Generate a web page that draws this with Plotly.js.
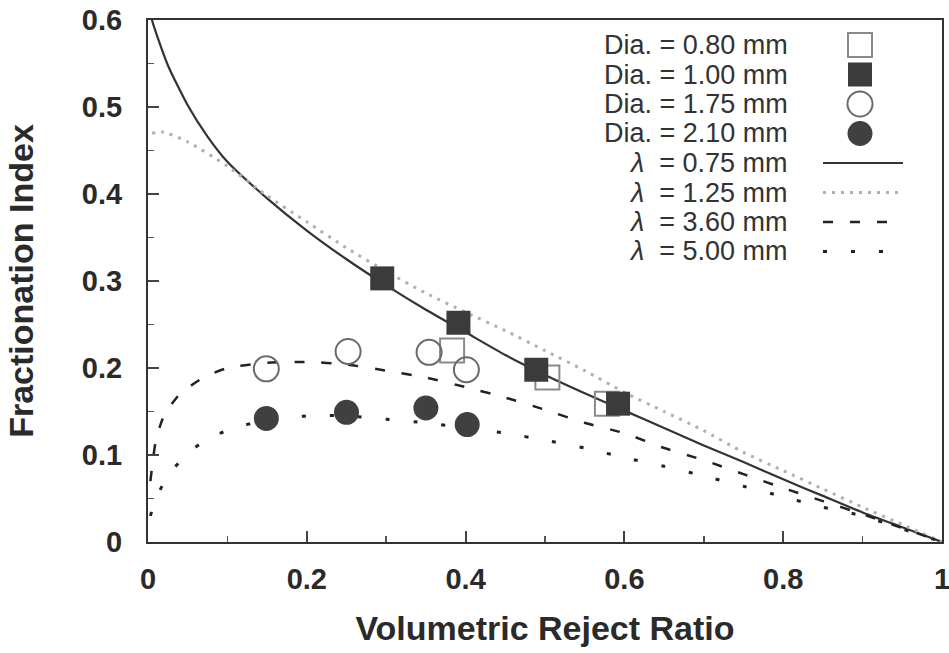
<!DOCTYPE html>
<html>
<head>
<meta charset="utf-8">
<script src="https://cdn.plot.ly/plotly-3.0.1.min.js"></script>
<style>
html,body{margin:0;padding:0;background:#fff;}
#chart{width:949px;height:653px;}
</style>
</head>
<body>
<div id="chart"></div>
<script>
// ---------- data ----------
const dia080X = [0.383, 0.503, 0.578];
const dia080Y = [0.220, 0.189, 0.159];
const dia100X = [0.295, 0.391, 0.489, 0.592];
const dia100Y = [0.303, 0.252, 0.198, 0.159];
const dia175X = [0.149, 0.252, 0.354, 0.401];
const dia175Y = [0.199, 0.219, 0.218, 0.198];
const dia210X = [0.149, 0.250, 0.350, 0.402];
const dia210Y = [0.142, 0.149, 0.154, 0.135];

const lam075X = [0.0, 0.005, 0.025, 0.05, 0.075, 0.1, 0.15, 0.2, 0.25, 0.3, 0.35, 0.4, 0.45, 0.5, 0.55, 0.6, 0.65, 0.7, 0.75, 0.8, 0.85, 0.9, 0.95, 1.0];
const lam075Y = [0.625, 0.600, 0.548, 0.502, 0.466, 0.437, 0.395, 0.358, 0.325, 0.295, 0.267, 0.241, 0.215, 0.192, 0.171, 0.151, 0.131, 0.111, 0.092, 0.072, 0.053, 0.034, 0.017, 0.000];

const lam125X = [0.005, 0.02, 0.05, 0.1, 0.15, 0.2, 0.25, 0.3, 0.35, 0.4, 0.45, 0.5, 0.55, 0.6, 0.65, 0.7, 0.75, 0.8, 0.85, 0.9, 0.95, 1.0];
const lam125Y = [0.470, 0.471, 0.460, 0.432, 0.398, 0.368, 0.338, 0.311, 0.286, 0.264, 0.243, 0.220, 0.197, 0.172, 0.150, 0.128, 0.103, 0.082, 0.061, 0.040, 0.020, 0.000];

const lam360X = [0.003, 0.01, 0.02, 0.04, 0.07, 0.1, 0.15, 0.2, 0.25, 0.3, 0.35, 0.4, 0.45, 0.5, 0.55, 0.6, 0.65, 0.7, 0.75, 0.8, 0.85, 0.9, 0.95, 1.0];
const lam360Y = [0.070, 0.117, 0.145, 0.170, 0.189, 0.200, 0.206, 0.207, 0.204, 0.197, 0.189, 0.178, 0.166, 0.152, 0.137, 0.125, 0.108, 0.094, 0.078, 0.062, 0.047, 0.032, 0.016, 0.000];

const lam500X = [0.003, 0.01, 0.025, 0.05, 0.08, 0.12, 0.15, 0.2, 0.25, 0.3, 0.35, 0.4, 0.45, 0.5, 0.55, 0.6, 0.65, 0.7, 0.75, 0.8, 0.85, 0.9, 0.95, 1.0];
const lam500Y = [0.030, 0.050, 0.076, 0.102, 0.121, 0.134, 0.140, 0.145, 0.145, 0.141, 0.137, 0.131, 0.125, 0.117, 0.108, 0.097, 0.087, 0.076, 0.064, 0.052, 0.040, 0.030, 0.015, 0.000];

const xTickVals = [0, 0.2, 0.4, 0.6, 0.8, 1];
const xTickText = ['0', '0.2', '0.4', '0.6', '0.8', '1'];
const yTickVals = [0, 0.1, 0.2, 0.3, 0.4, 0.5, 0.6];
const yTickText = ['0', '0.1', '0.2', '0.3', '0.4', '0.5', '0.6'];

const diaLabels = ['Dia. = 0.80 mm', 'Dia. = 1.00 mm', 'Dia. = 1.75 mm', 'Dia. = 2.10 mm'];
const lamLabels = ['<i>\u03bb</i>\u00a0\u00a0= 0.75 mm', '<i>\u03bb</i>\u00a0\u00a0= 1.25 mm', '<i>\u03bb</i>\u00a0\u00a0= 3.60 mm', '<i>\u03bb</i>\u00a0\u00a0= 5.00 mm'];

// ---------- styles ----------
const markerStyles = [
  {symbol: 'square-open', size: 24, color: '#8a8a8a', line: {width: 2, color: '#8a8a8a'}},
  {symbol: 'square', size: 24, color: '#3b3b3b', line: {width: 0}},
  {symbol: 'circle-open', size: 25, color: '#6a6a6a', line: {width: 2, color: '#6a6a6a'}},
  {symbol: 'circle', size: 25, color: '#404040', line: {width: 0}}
];
const lineStyles = [
  {color: '#333333', width: 2.2, dash: 'solid'},
  {color: '#b0b0b0', width: 3, dash: '3px,6px'},
  {color: '#222222', width: 2.5, dash: '10px,17px'},
  {color: '#222222', width: 3, dash: '4px,24px'}
];

const lineData = [[lam075X, lam075Y], [lam125X, lam125Y], [lam360X, lam360Y], [lam500X, lam500Y]];
const markerData = [[dia080X, dia080Y], [dia100X, dia100Y], [dia175X, dia175Y], [dia210X, dia210Y]];

const traces = [];
lineData.forEach((d, i) => {
  traces.push({
    x: d[0], y: d[1], type: 'scatter', mode: 'lines', name: lamLabels[i],
    line: Object.assign({shape: 'spline', smoothing: 0.6}, lineStyles[i]),
    showlegend: false, hoverinfo: 'x+y'
  });
});
markerData.forEach((d, i) => {
  traces.push({
    x: d[0], y: d[1], type: 'scatter', mode: 'markers', name: diaLabels[i],
    marker: markerStyles[i], showlegend: false, cliponaxis: false
  });
});

// ---------- custom legend (text right-aligned, symbols to the right) ----------
const plotL = 148, plotR = 942, plotT = 20, plotB = 542;
const pw = plotR - plotL, ph = plotB - plotT;
const px2x = p => (p - plotL) / pw;
const px2y = p => (plotB - p) / ph;
const legTextRight = 790, legSymX = 860, legRow0 = 45, legStep = 29.5;
const legFont = {family: 'Liberation Sans, Arial, sans-serif', size: 27, color: '#333333'};

const annotations = [];
const shapes = [];
const allLabels = diaLabels.concat(lamLabels);
allLabels.forEach((t, i) => {
  annotations.push({
    xref: 'paper', yref: 'paper', x: px2x(legTextRight), y: px2y(legRow0 + i * legStep),
    xanchor: 'right', yanchor: 'middle', text: t, showarrow: false, font: legFont
  });
});
// marker samples
markerStyles.forEach((m, i) => {
  const cy = px2y(legRow0 + i * legStep);
  const half = m.size / 2;
  const isOpen = m.symbol.indexOf('open') >= 0;
  shapes.push({
    type: m.symbol.indexOf('square') === 0 ? 'rect' : 'circle',
    xref: 'paper', yref: 'paper',
    xsizemode: 'pixel', ysizemode: 'pixel',
    xanchor: px2x(legSymX), yanchor: cy,
    x0: -half, x1: half, y0: -half, y1: half,
    fillcolor: isOpen ? 'rgba(0,0,0,0)' : m.color,
    line: {color: m.color, width: isOpen ? 2 : 0}
  });
});
// line samples
lineStyles.forEach((l, i) => {
  const cy = px2y(legRow0 + (i + 4) * legStep);
  shapes.push({
    type: 'line', xref: 'paper', yref: 'paper',
    x0: px2x(823), x1: px2x(903), y0: cy, y1: cy,
    line: {color: l.color, width: l.width, dash: l.dash}
  });
});

const tickFont = {family: 'Liberation Sans, Arial, sans-serif', size: 29, color: '#2a2a2a', weight: 'bold'};
const titleFont = {family: 'Liberation Sans, Arial, sans-serif', size: 34, color: '#2a2a2a'};

const layout = {
  width: 949, height: 653,
  paper_bgcolor: '#ffffff', plot_bgcolor: '#ffffff',
  margin: {l: plotL, r: 949 - plotR, t: plotT, b: 653 - plotB, pad: 0},
  showlegend: false,
  xaxis: {
    range: [0, 1], tickvals: xTickVals, ticktext: xTickText,
    ticks: 'inside', ticklen: 11, tickwidth: 2, tickcolor: '#444',
    minor: {dtick: 0.1, ticks: 'inside', ticklen: 6, tickwidth: 1.5, tickcolor: '#555', showgrid: false},
    showgrid: false, zeroline: false, showline: true, linecolor: '#333', linewidth: 2, mirror: true,
    tickfont: tickFont, ticklabelstandoff: 10, ticklabeloverflow: 'allow',
    title: {text: '<b>Volumetric Reject Ratio</b>', font: titleFont, standoff: 22},
    automargin: false
  },
  yaxis: {
    range: [0, 0.6], tickvals: yTickVals, ticktext: yTickText,
    ticks: 'inside', ticklen: 11, tickwidth: 2, tickcolor: '#444',
    minor: {dtick: 0.05, ticks: 'inside', ticklen: 6, tickwidth: 1.5, tickcolor: '#555', showgrid: false},
    showgrid: false, zeroline: false, showline: true, linecolor: '#333', linewidth: 2, mirror: true,
    tickfont: tickFont, ticklabelstandoff: 18, ticklabeloverflow: 'allow',
    title: {text: '<b>Fractionation Index</b>', font: titleFont, standoff: 38},
    automargin: false
  },
  annotations: annotations,
  shapes: shapes
};

Plotly.newPlot('chart', traces, layout, {displayModeBar: false, staticPlot: true});
</script>
</body>
</html>
